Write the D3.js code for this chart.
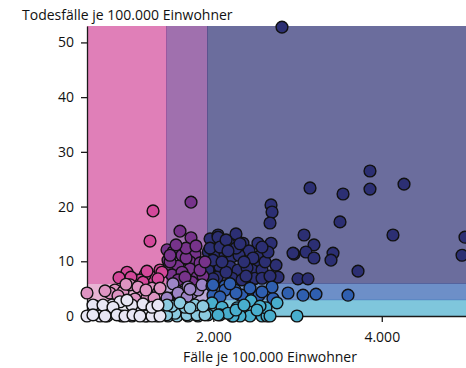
<!DOCTYPE html>
<html>
<head>
<meta charset="utf-8">
<script src="https://cdn.jsdelivr.net/npm/d3@7"></script>
<style>
  html, body { margin: 0; padding: 0; background: #fff; }
  svg text { font-family: "Open Sans", "Liberation Sans", sans-serif; fill: #111; }
</style>
</head>
<body>
<svg id="chart" width="466" height="368"></svg>
<script>
// Fälle und Todesfälle je 100.000 Einwohner pro Kreis
const cases = [
  // hohe Fallzahl, hohe Sterblichkeit
  2815, 3860, 3860, 4264, 3148, 3540, 3504, 3077, 4133, 3195, 2958, 3100, 3195, 3421, 3397, 3718, 3005, 3124, 4988, 4953,
  2685, 2697, 2673, 2269, 2352, 2530, 2685, 2946, 2412, 2530, 2554, 2459, 2483, 2744, 2768, 1961, 2056, 2091, 2186, 2424,
  1940, 1984, 2020, 2139, 2222, 2305, 2471, 1949, 2079, 2198, 2293, 2400, 2222, 2495, 2340, 2044, 1937, 1961, 2056, 2079,
  2151, 2269, 2364, 2578, 2614, 2151, 1996, 2103, 2317, 2649, 2388, 2578, 2673, 1996, 2174, 2578,
  // mittlere Fallzahl, hohe Sterblichkeit
  1735, 1604, 1735, 1450, 1521, 1628, 1782, 1462, 1462, 1581, 1723, 1723, 1842, 1486, 1806, 1676, 1509, 1628, 1877, 1581,
  1747, 1842, 1676, 1557, 1901, 1794, 1486, 1664,
  // niedrige Fallzahl, hohe Sterblichkeit
  1284, 1248, 975, 880, 1272, 1367, 1390, 1070, 1189, 1129, 1165, 1343, 1022, 1212,
  // niedrige Fallzahl, mittlere Sterblichkeit
  500, 832, 927, 1011, 1105, 1153, 1272, 1343, 1212, 1296, 1070, 773, 963, 714, 1200, 1367, 868,
  // mittlere Fallzahl, mittlere Sterblichkeit
  1521, 1521, 1640, 1747, 1818, 1462, 1604, 1699, 1450, 1581, 1687, 1723, 1866,
  // hohe Fallzahl, mittlere Sterblichkeit
  1984, 2139, 2317, 1996, 2708, 2697, 2887, 3065, 3219, 3599, 2542, 2340, 2257, 1996, 2139, 2269, 2435, 2578, 2079, 2198,
  // hohe Fallzahl, niedrige Sterblichkeit
  2756, 2447, 2281, 2435, 2578, 2637, 2625, 2993, 2317, 2222, 1984, 2103, 2079, 2234, 2174, 2269, 2554, 2673, 1937, 2056,
  2364, 2518,
  // mittlere Fallzahl, niedrige Sterblichkeit
  1462, 1569, 1699, 1818, 1545, 1687, 1806, 1901, 1445, 1509, 1664, 1782, 1877, 1604, 1450, 1723,
  // niedrige Fallzahl, niedrige Sterblichkeit
  500, 595, 654, 737, 797, 892, 915, 1034, 1070, 1212, 1212, 1331, 571, 690, 809, 1034, 571, 714, 856, 951,
  1046, 1189, 1129, 1272, 1367, 975, 1165, 1272, 1343
];
const deaths = [
  52.8, 26.5, 23.2, 24.1, 23.4, 22.3, 17.2, 14.8, 14.8, 13.0, 11.3, 11.7, 10.6, 11.5, 10.2, 8.2, 6.8, 6.8, 14.4, 11.1,
  20.3, 19.0, 17.0, 15.0, 13.3, 13.3, 13.3, 11.5, 11.1, 10.1, 11.0, 8.4, 6.8, 9.3, 7.1, 14.1, 14.8, 12.8, 13.2, 11.9,
  11.7, 12.2, 10.8, 11.1, 10.8, 11.1, 10.6, 8.6, 9.0, 9.0, 8.4, 8.8, 6.9, 6.9, 6.6, 7.1, 8.4, 12.4, 14.4, 12.6,
  13.9, 12.4, 9.9, 8.4, 9.9, 8.0, 10.2, 9.9, 13.2, 11.7, 7.3, 6.9, 7.3, 6.8, 11.9, 12.6,
  20.8, 15.5, 14.3, 12.1, 11.7, 11.1, 11.3, 10.2, 8.8, 9.1, 9.9, 8.6, 9.7, 9.9, 7.1, 10.6, 7.5, 8.0, 7.3, 6.6,
  6.2, 8.4, 12.4, 13.0, 9.9, 12.8, 11.1, 7.1,
  19.2, 13.7, 8.0, 7.0, 7.1, 8.4, 8.0, 6.6, 7.5, 6.6, 6.2, 6.8, 7.1, 8.2,
  4.2, 4.75, 4.4, 5.7, 5.3, 3.5, 5.1, 4.2, 3.3, 3.3, 3.1, 4.2, 5.8, 4.6, 4.75, 5.1, 3.7,
  5.9, 3.3, 4.4, 4.2, 4.75, 3.1, 3.5, 5.3, 3.3, 4.2, 3.5, 4.9, 5.7,
  5.5, 5.5, 3.8, 3.8, 3.2, 5.3, 4.2, 3.8, 4.0, 3.8, 3.8, 3.8, 4.75, 5.7, 4.75, 4.2, 5.1, 4.4, 3.5, 5.9,
  2.4, 2.8, 1.5, 0, 0, 0, 1.5, 0, 0, 0, 2.4, 1.6, 0.2, 0, 0.5, 1.1, 1.8, 0, 0.2, 0.2,
  2.0, 1.1,
  0, 0, 0, 0, 0.5, 0.2, 0.2, 0.2, 0.2, 1.8, 1.6, 2.0, 1.8, 2.4, 2.0, 1.5,
  0, 1.8, 0, 0, 2.0, 2.6, 0, 0, 1.6, 1.5, 0, 0, 2.0, 2.0, 1.6, 2.0, 0.2, 0, 0.2, 0,
  0.2, 0, 0, 0, 0, 2.9, 2.2, 1.6, 2.0
];

// Klassengrenzen (Terzile) für beide Merkmale
const caseBreaks = [1438, 1925];
const deathBreaks = [3, 6];

// Bivariate Farbskala: Zeile = Fallklasse, Spalte = Todesfallklasse
const palette = [
  ["#e8e6f4", "#de94c2", "#d3489a"],
  ["#8ccbe0", "#9d85c6", "#77338b"],
  ["#48aecd", "#2f5fb0", "#2c2f73"]
];

const xTicks = [2000, 4000];
const yTicks = [0, 10, 20, 30, 40, 50];

const margin = { top: 26, left: 87, bottom: 52 };
const W = 466, H = 368;
const svg = d3.select("#chart");

const x = d3.scaleLinear().domain([500, 5000]).range([margin.left, W]);
const y = d3.scaleLinear().domain([0, 53]).range([H - margin.bottom, margin.top]);

const classOf = (v, breaks) => d3.bisectRight(breaks, v);
const fmt = d3.formatLocale({ decimal: ",", thousands: ".", grouping: [3], currency: ["", "€"] }).format(",");

// Hintergrundflächen der neun Klassen
const xEdges = [x.domain()[0], ...caseBreaks, x.domain()[1]];
const yEdges = [y.domain()[0], ...deathBreaks, y.domain()[1]];
const cells = [];
for (let i = 0; i < 3; i++) for (let j = 0; j < 3; j++) cells.push({ i, j });
svg.append("g").selectAll("rect").data(cells).join("rect")
  .attr("x", d => x(xEdges[d.i]))
  .attr("y", d => y(yEdges[d.j + 1]))
  .attr("width", d => x(xEdges[d.i + 1]) - x(xEdges[d.i]) + 0.6)
  .attr("height", d => y(yEdges[d.j]) - y(yEdges[d.j + 1]) + 0.6)
  .attr("fill", d => palette[d.i][d.j])
  .attr("fill-opacity", 0.7);

// Achsen
const yAxis = svg.append("g")
  .attr("transform", `translate(${margin.left},0)`)
  .call(d3.axisLeft(y).tickValues(yTicks).tickSize(6).tickPadding(7).tickSizeOuter(0));
const xAxis = svg.append("g")
  .attr("transform", `translate(0,${H - margin.bottom})`)
  .call(d3.axisBottom(x).tickValues(xTicks).tickFormat(fmt).tickSize(6).tickPadding(10).tickSizeOuter(0));
[yAxis, xAxis].forEach(g => {
  g.selectAll("text").style("font-size", "14px").style("font-family", "'Open Sans', sans-serif").attr("fill", "#111");
  g.selectAll("line, path").attr("stroke", "#1a1a1a").attr("stroke-width", 1.3);
});

svg.append("text")
  .attr("x", 22).attr("y", 20)
  .style("font-size", "14px")
  .text("Todesfälle je 100.000 Einwohner");
svg.append("text")
  .attr("x", 270).attr("y", 362)
  .attr("text-anchor", "middle")
  .style("font-size", "14px")
  .text("Fälle je 100.000 Einwohner");

// Kreise
const points = cases.map((c, k) => ({ c, d: deaths[k] }));
svg.append("g").selectAll("circle").data(points).join("circle")
  .attr("cx", p => x(p.c))
  .attr("cy", p => y(p.d))
  .attr("r", 5.9)
  .attr("fill", p => palette[classOf(p.c, caseBreaks)][classOf(p.d, deathBreaks)])
  .attr("stroke", "#111")
  .attr("stroke-width", 1.4);
</script>
</body>
</html>
